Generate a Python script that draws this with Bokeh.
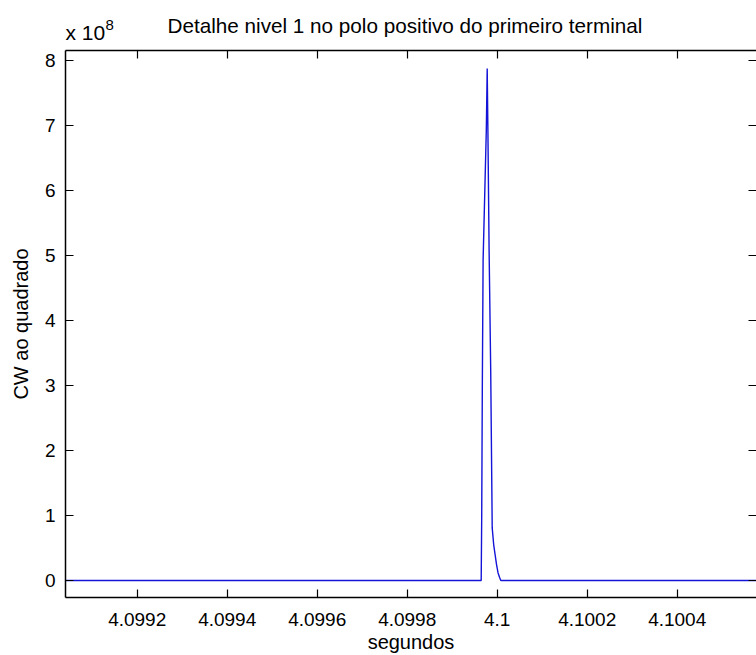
from bokeh.plotting import figure
from bokeh.models import (Range1d, LinearAxis, FixedTicker, CustomJSTickFormatter, Title)
from bokeh.embed import file_html
from bokeh.resources import INLINE

# ---- data ----
time_s = [4.09904, 4.09996444, 4.09996556, 4.09996689, 4.09996867, 4.09997578,
          4.09997778, 4.09997933, 4.09998200, 4.09998556, 4.09998889, 4.09999222,
          4.09999533, 4.09999844, 4.10000178, 4.10000511, 4.10000800, 4.100576]
cw_sq = [0.0, 0.0, 0.97e8, 2.93e8, 4.93e8, 6.93e8,
         7.88e8, 6.93e8, 5.08e8, 3.24e8, 0.81e8, 0.55e8,
         0.40e8, 0.25e8, 0.12e8, 0.05e8, 0.0, 0.0]
x_ticks = [4.0992, 4.0994, 4.0996, 4.0998, 4.1, 4.1002, 4.1004]
y_ticks = [0, 1e8, 2e8, 3e8, 4e8, 5e8, 6e8, 7e8, 8e8]

title_text = "Detalhe nivel 1 no polo positivo do primeiro terminal"
exponent_base = "x 10"
exponent_power = "8"
x_label = "segundos"
y_label = "CW ao quadrado"

FONT = "Liberation Sans"
x_range = Range1d(4.09904067, 4.1005762)
y_range = Range1d(-0.261e8, 8.157e8)

p = figure(width=756, height=655, output_backend="svg", toolbar_location=None,
           x_range=x_range, y_range=y_range, x_axis_type=None, y_axis_type=None,
           min_border_left=65, min_border_right=0, min_border_top=50,
           min_border_bottom=57, background_fill_color="white",
           border_fill_color="white", outline_line_color=None)
p.grid.visible = False

x_fmt = CustomJSTickFormatter(code="return parseFloat(tick.toFixed(4)).toString();")
y_fmt = CustomJSTickFormatter(code="return (tick/1e8).toFixed(0);")
blank = CustomJSTickFormatter(code="return '';")

def style(ax):
    ax.major_tick_in = 8
    ax.major_tick_out = 0
    ax.minor_tick_line_color = None
    ax.axis_line_width = 1.5
    ax.major_tick_line_width = 1.2
    ax.axis_line_color = "black"
    ax.major_tick_line_color = "black"
    ax.major_label_text_font = FONT
    ax.major_label_text_font_size = "19px"
    ax.major_label_text_color = "black"
    ax.axis_label_text_font = FONT
    ax.axis_label_text_font_size = "20px"
    ax.axis_label_text_font_style = "normal"
    ax.axis_label_text_color = "black"

bottom = LinearAxis(ticker=FixedTicker(ticks=x_ticks), formatter=x_fmt, axis_label=x_label)
style(bottom)
bottom.major_label_standoff = 15
bottom.axis_label_standoff = 2
p.add_layout(bottom, "below")

left = LinearAxis(ticker=FixedTicker(ticks=y_ticks), formatter=y_fmt, axis_label=y_label)
style(left)
left.major_label_standoff = 10
left.axis_label_standoff = 10
p.add_layout(left, "left")

top = LinearAxis(ticker=FixedTicker(ticks=x_ticks), formatter=blank)
style(top)
top.major_label_standoff = 0
top.major_label_text_font_size = "0px"
p.add_layout(top, "above")

right = LinearAxis(ticker=FixedTicker(ticks=y_ticks), formatter=blank)
style(right)
right.major_label_standoff = 0
right.major_label_text_font_size = "0px"
right.axis_line_color = None
p.add_layout(right, "right")

exp_title = Title(text=exponent_base, align="left", text_font=FONT, text_font_size="21px",
                  text_font_style="normal", text_color="black", standoff=13)
p.add_layout(exp_title, "above")

pow_title = Title(text=exponent_power, align="left", offset=40, text_font=FONT,
                  text_font_size="15px", text_font_style="normal", text_color="black",
                  standoff=-35)
p.add_layout(pow_title, "above")

t = Title(text=title_text, align="left", offset=102, text_font=FONT,
          text_font_size="20.7px", text_font_style="normal", text_color="black",
          standoff=-48)
p.add_layout(t, "above")

p.line(time_s, cw_sq, line_color="#1414d8", line_width=1.4)

open("out.html", "w").write(file_html(p, INLINE))
